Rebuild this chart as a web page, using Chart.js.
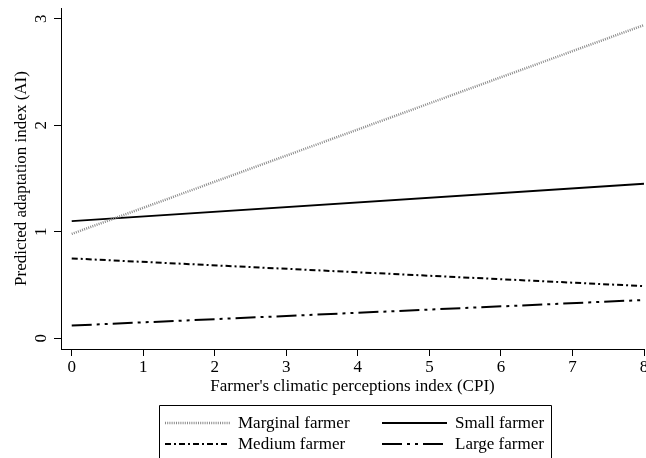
<!DOCTYPE html>
<html>
<head>
<meta charset="utf-8">
<script src="https://cdn.jsdelivr.net/npm/chart.js@4/dist/chart.umd.min.js"></script>
<style>
html,body{margin:0;padding:0;background:#fff;}
#wrap{width:646px;height:458px;}
</style>
</head>
<body>
<div id="wrap"><canvas id="c" width="646" height="458"></canvas></div>
<script>
// ---- data ----
const cpi = [0, 8];
const marginal = [0.98, 2.94];
const small = [1.10, 1.45];
const medium = [0.75, 0.49];
const large = [0.12, 0.36];
const xTicks = [0, 1, 2, 3, 4, 5, 6, 7, 8];
const yTicks = [0, 1, 2, 3];
const seriesNames = ['Marginal farmer', 'Small farmer', 'Medium farmer', 'Large farmer'];

const FONT = 'Liberation Serif';
const FS = 17;
const pts = arr => cpi.map((x, i) => ({x: x, y: arr[i]}));

const legendPlugin = {
  id: 'boxLegend',
  afterDraw(chart) {
    const ctx = chart.ctx;
    const ds = chart.data.datasets;
    ctx.save();
    ctx.strokeStyle = '#000';
    ctx.lineWidth = 1;
    ctx.beginPath();
    ctx.moveTo(159.5, 470);
    ctx.lineTo(159.5, 405.5);
    ctx.lineTo(551.5, 405.5);
    ctx.lineTo(551.5, 470);
    ctx.stroke();
    const order = [[0, 0, 0], [1, 1, 0], [2, 0, 1], [3, 1, 1]];
    const colX = [165, 382];
    const rowY = [423, 444];
    ctx.font = FS + 'px "' + FONT + '"';
    ctx.textBaseline = 'middle';
    ctx.fillStyle = '#000';
    order.forEach(([di, col, row]) => {
      const d = ds[di];
      const x0 = colX[col], y = rowY[row];
      ctx.save();
      ctx.strokeStyle = d.borderColor;
      ctx.lineWidth = d.borderWidth;
      ctx.setLineDash(d.borderDash || []);
      ctx.beginPath();
      ctx.moveTo(x0, y);
      ctx.lineTo(x0 + 65, y);
      ctx.stroke();
      ctx.restore();
      ctx.fillText(d.label, x0 + 73, y + 1);
    });
    ctx.restore();
  }
};

new Chart(document.getElementById('c'), {
  type: 'line',
  data: {
    datasets: [
      {label: seriesNames[0], data: pts(marginal), borderColor: '#8a8a8a', borderWidth: 2.5, borderDash: [1, 1.2]},
      {label: seriesNames[1], data: pts(small), borderColor: '#000', borderWidth: 2},
      {label: seriesNames[2], data: pts(medium), borderColor: '#000', borderWidth: 2, borderDash: [6, 3, 2, 3]},
      {label: seriesNames[3], data: pts(large), borderColor: '#000', borderWidth: 2, borderDash: [20, 5, 3, 5, 3, 5]}
    ]
  },
  options: {
    responsive: false,
    animation: false,
    events: [],
    elements: {point: {radius: 0}, line: {tension: 0, fill: false, borderCapStyle: 'butt'}},
    layout: {padding: {top: 8, right: 2, bottom: 58, left: 0}},
    plugins: {legend: {display: false}, tooltip: {enabled: false}},
    scales: {
      x: {
        type: 'linear',
        min: -0.15, max: 8,
        afterBuildTicks: s => { s.ticks = xTicks.map(v => ({value: v})); },
        afterFit: s => { s.height = 51; s.paddingLeft = 0; s.paddingRight = 0; },
        grid: {drawOnChartArea: false, drawTicks: true, tickLength: 7, color: '#000', lineWidth: 1},
        border: {display: true, color: '#000', width: 1},
        ticks: {font: {family: FONT, size: FS}, color: '#000', padding: 1, maxRotation: 0, minRotation: 0},
        title: {display: true, text: "Farmer's climatic perceptions index (CPI)", font: {family: FONT, size: FS}, color: '#000', padding: {top: 0, bottom: 3}}
      },
      y: {
        type: 'linear',
        min: -0.1, max: 3.1,
        afterBuildTicks: s => { s.ticks = yTicks.map(v => ({value: v})); },
        afterFit: s => { s.width = 61; s.paddingTop = 0; s.paddingBottom = 0; },
        grid: {drawOnChartArea: false, drawTicks: true, tickLength: 7, color: '#000', lineWidth: 1},
        border: {display: true, color: '#000', width: 1},
        ticks: {font: {family: FONT, size: FS}, color: '#000', padding: 8, minRotation: 90, maxRotation: 90, crossAlign: 'center'},
        title: {display: true, text: 'Predicted adaptation index (AI)', font: {family: FONT, size: FS}, color: '#000', padding: {top: 11, bottom: 0}}
      }
    }
  },
  plugins: [legendPlugin]
});
</script>
</body>
</html>
